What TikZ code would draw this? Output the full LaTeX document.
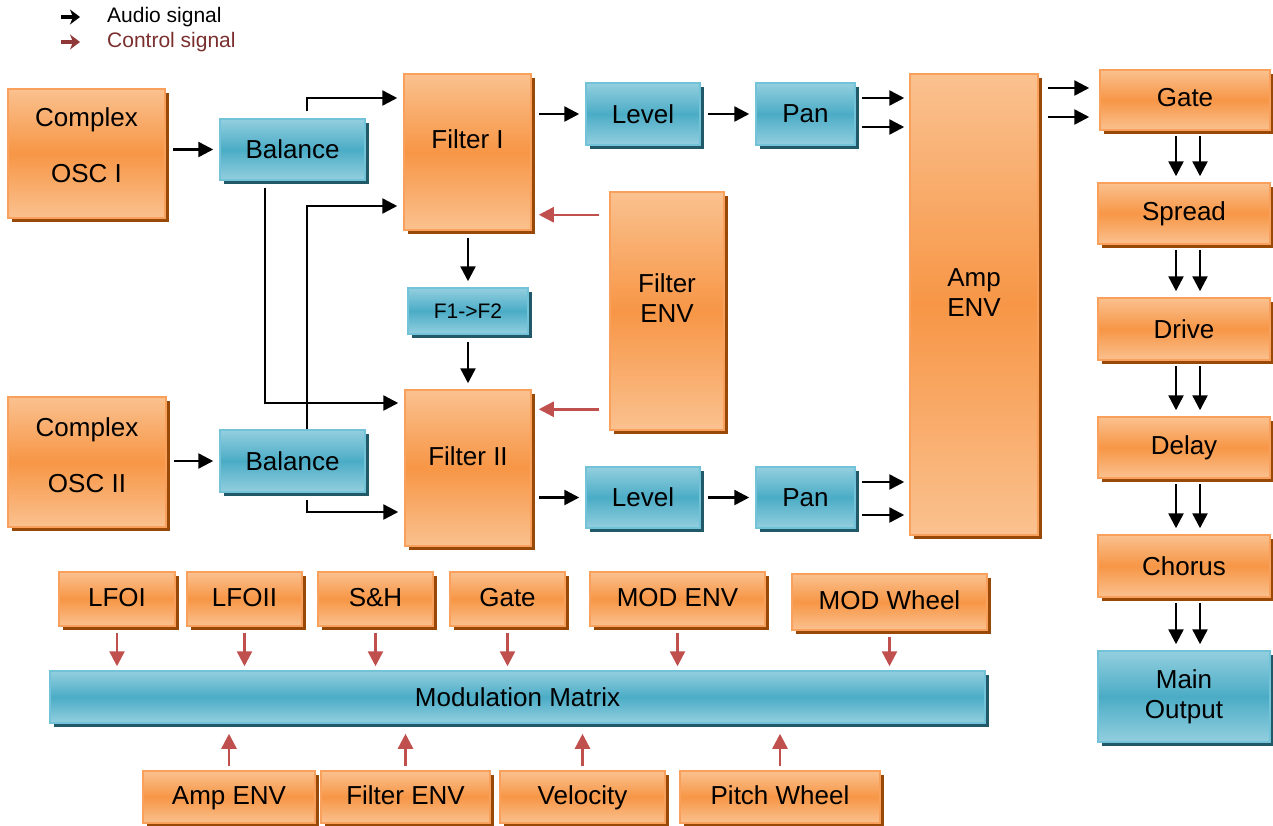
\documentclass[tikz,border=0pt]{standalone}
\usepackage{fontspec}
\setmainfont{Liberation Sans}
\usetikzlibrary{arrows.meta,calc,shadows}
\definecolor{ormid}{HTML}{F79646}
\definecolor{orlight}{HTML}{FAC18F}
\definecolor{orline}{HTML}{F8A05C}
\definecolor{orshadow}{HTML}{984807}
\definecolor{blmid}{HTML}{4BACC6}
\definecolor{bllight}{HTML}{93CFDF}
\definecolor{blline}{HTML}{72C2D8}
\definecolor{blshadow}{HTML}{215968}
\definecolor{ctlred}{HTML}{C0504D}
\definecolor{ctltext}{HTML}{7A2E2E}
\begin{document}
\begin{tikzpicture}[x=1pt,y=-1pt,
  box/.style={line width=1.5pt,align=center,inner sep=0pt,font=\fontsize{26}{30}\selectfont},
  obox/.style={box,draw=orline,top color=orlight,bottom color=orlight,middle color=ormid,
    drop shadow={shadow xshift=4pt,shadow yshift=-4pt,fill=orshadow,opacity=1}},
  bbox/.style={box,draw=blline,top color=bllight,bottom color=bllight,middle color=blmid,
    drop shadow={shadow xshift=4pt,shadow yshift=-4pt,fill=blshadow,opacity=1}},
  sz/.style 2 args={minimum width=#1pt,minimum height=#2pt},
  oneline/.style={text height=19pt,text depth=5pt},
  aud/.style={line width=2.5pt,shorten <=7pt,shorten >=6pt,-{Triangle[length=15pt,width=15pt]}},
  ctl/.style={line width=2.5pt,ctlred,-{Triangle[length=15pt,width=15pt]}}]
\useasboundingbox (0,0) rectangle (1273,825);
% legend
\coordinate (la0) at (61,17); \coordinate (la1) at (80,17);
\coordinate (lc0) at (61,42); \coordinate (lc1) at (80,42);
\draw[line width=3.5pt,-{Stealth[length=10pt,width=15pt,inset=3pt]}] (la0) -- (la1);
\draw[line width=3.5pt,ctltext!70!ctlred,-{Stealth[length=10pt,width=15pt,inset=3pt]}] (lc0) -- (lc1);
\node[anchor=west,inner sep=0pt,font=\fontsize{21}{24}\selectfont] (lgaud) at (107,17) {Audio signal};
\node[anchor=west,inner sep=0pt,font=\fontsize{21}{24}\selectfont,ctltext] (lgctl) at (107,42) {Control signal};
% voice
\node[obox,sz={157}{129},text depth=16pt] (osc1) at (86.5,153.5) {Complex\\[26pt]OSC I};
\node[obox,sz={158}{130},text depth=14pt] (osc2) at (87,462) {Complex\\[26pt]OSC II};
\node[bbox,sz={145}{61}] (bal1) at (292.5,149.5) {Balance};
\node[bbox,sz={145}{62}] (bal2) at (292.5,461) {Balance};
\node[obox,sz={127}{156},text depth=26pt] (fil1) at (467.5,152) {Filter I};
\node[obox,sz={126}{156},text depth=24pt] (fil2) at (468,468) {Filter II};
\node[bbox,sz={120}{46},font=\fontsize{21}{24}\selectfont] (f12) at (468,311) {F1->F2};
\node[obox,sz={114}{238},text depth=26pt] (fenv) at (667,311) {Filter\\ENV};
\node[bbox,sz={114}{62}] (lev1) at (643,114) {Level};
\node[bbox,sz={99}{62}] (pan1) at (805.5,114) {Pan};
\node[bbox,sz={114}{61}] (lev2) at (643,497.5) {Level};
\node[bbox,sz={99}{61}] (pan2) at (805.5,497.5) {Pan};
\node[obox,sz={128}{461},text depth=24pt] (amp) at (974,304.5) {Amp\\ENV};
% effects chain
\node[obox,sz={170}{60},text depth=6pt] (gate) at (1185,100) {Gate};
\node[obox,sz={172}{61}] (spread) at (1184,213.5) {Spread};
\node[obox,sz={172}{62}] (drive) at (1184,329) {Drive};
\node[obox,sz={172}{61}] (delay) at (1184,447.5) {Delay};
\node[obox,sz={172}{62}] (chorus) at (1184,566) {Chorus};
\node[bbox,sz={172}{91}] (mainout) at (1184,696.5) {Main\\Output};
% modulation
\node[obox,oneline,sz={116}{54}] (lfo1) at (117,599) {LFOI};
\node[obox,oneline,sz={115}{54}] (lfo2) at (244.5,599) {LFOII};
\node[obox,oneline,sz={115}{54}] (snh) at (375.5,599) {S\&H};
\node[obox,oneline,sz={115}{54}] (mgate) at (507.5,599) {Gate};
\node[obox,oneline,sz={175}{54}] (menv) at (677.5,599) {MOD ENV};
\node[obox,oneline,sz={195}{56}] (mwheel) at (889.5,602) {MOD Wheel};
\node[bbox,sz={935}{52}] (matrix) at (517.5,697) {Modulation Matrix};
\node[obox,oneline,sz={172}{52}] (senv) at (229,797) {Amp ENV};
\node[obox,oneline,sz={169}{52}] (sfenv) at (405.5,797) {Filter ENV};
\node[obox,oneline,sz={165}{52}] (vel) at (582.5,797) {Velocity};
\node[obox,oneline,sz={200}{52}] (pwheel) at (780,797) {Pitch Wheel};
% audio path
\draw[aud] (osc1.east |- bal1) -- (bal1.west);
\draw[aud] (osc2.east |- bal2) -- (bal2.west);
\draw[aud] ($(bal1.north)+(14.5,0)$) |- ($(fil1.west)+(0,-54)$);
\draw[aud] ($(bal1.south)+(-27.5,0)$) |- ($(fil2.west)+(0,-65)$);
\draw[aud,shorten <=0pt] ($(bal2.north)+(14.5,0)$) |- ($(fil1.west)+(0,54)$);
\draw[aud] ($(bal2.south)+(14.5,0)$) |- ($(fil2.west)+(0,44)$);
\draw[aud] (fil1.south -| f12) -- (f12.north);
\draw[aud] (f12.south) -- (f12.south |- fil2.north);
\draw[aud] (fil1.east |- lev1) -- (lev1.west);
\draw[aud] (lev1) -- (pan1);
\draw[aud] (fil2.east |- lev2) -- (lev2.west);
\draw[aud] (lev2) -- (pan2);
\draw[aud,shorten <=6pt,shorten >=5pt] ($(pan1.east)+(0,-16)$) -- ($(pan1.east -| amp.west)+(0,-16)$);
\draw[aud,shorten <=6pt,shorten >=5pt] ($(pan1.east)+(0,13)$) -- ($(pan1.east -| amp.west)+(0,13)$);
\draw[aud,shorten <=6pt,shorten >=5pt] ($(pan2.east)+(0,-15.5)$) -- ($(pan2.east -| amp.west)+(0,-15.5)$);
\draw[aud,shorten <=6pt,shorten >=5pt] ($(pan2.east)+(0,17.5)$) -- ($(pan2.east -| amp.west)+(0,17.5)$);
\draw[aud,shorten <=9pt,shorten >=10pt] ($(gate.west -| amp.east)+(0,-12)$) -- ($(gate.west)+(0,-12)$);
\draw[aud,shorten <=9pt,shorten >=10pt] ($(gate.west -| amp.east)+(0,17)$) -- ($(gate.west)+(0,17)$);
\foreach \a/\b in {gate/spread,spread/drive,drive/delay,delay/chorus,chorus/mainout}{
  \draw[aud,shorten <=5pt] ($(\a.south -| \b.north)+(-8,0)$) -- ($(\b.north)+(-8,0)$);
  \draw[aud,shorten <=5pt] ($(\a.south -| \b.north)+(16,0)$) -- ($(\b.north)+(16,0)$);
}
% control
\draw[ctl,shorten <=10pt,shorten >=7pt] ($(fenv.west |- fil1.south)+(0,-16)$) -- ($(fil1.south east)+(0,-16)$);
\draw[ctl,shorten <=10pt,shorten >=7pt] ($(fenv.west |- fil2.north)+(0,20)$) -- ($(fil2.north east)+(0,20)$);
\foreach \s in {lfo1,lfo2,snh,mgate,menv,mwheel}
  \draw[ctl,shorten <=6pt,shorten >=4pt] (\s.south) -- (\s.south |- matrix.north);
\foreach \s in {senv,sfenv,vel,pwheel}
  \draw[ctl,shorten <=4pt,shorten >=10pt] (\s.north) -- (\s.north |- matrix.south);
\end{tikzpicture}
\end{document}
